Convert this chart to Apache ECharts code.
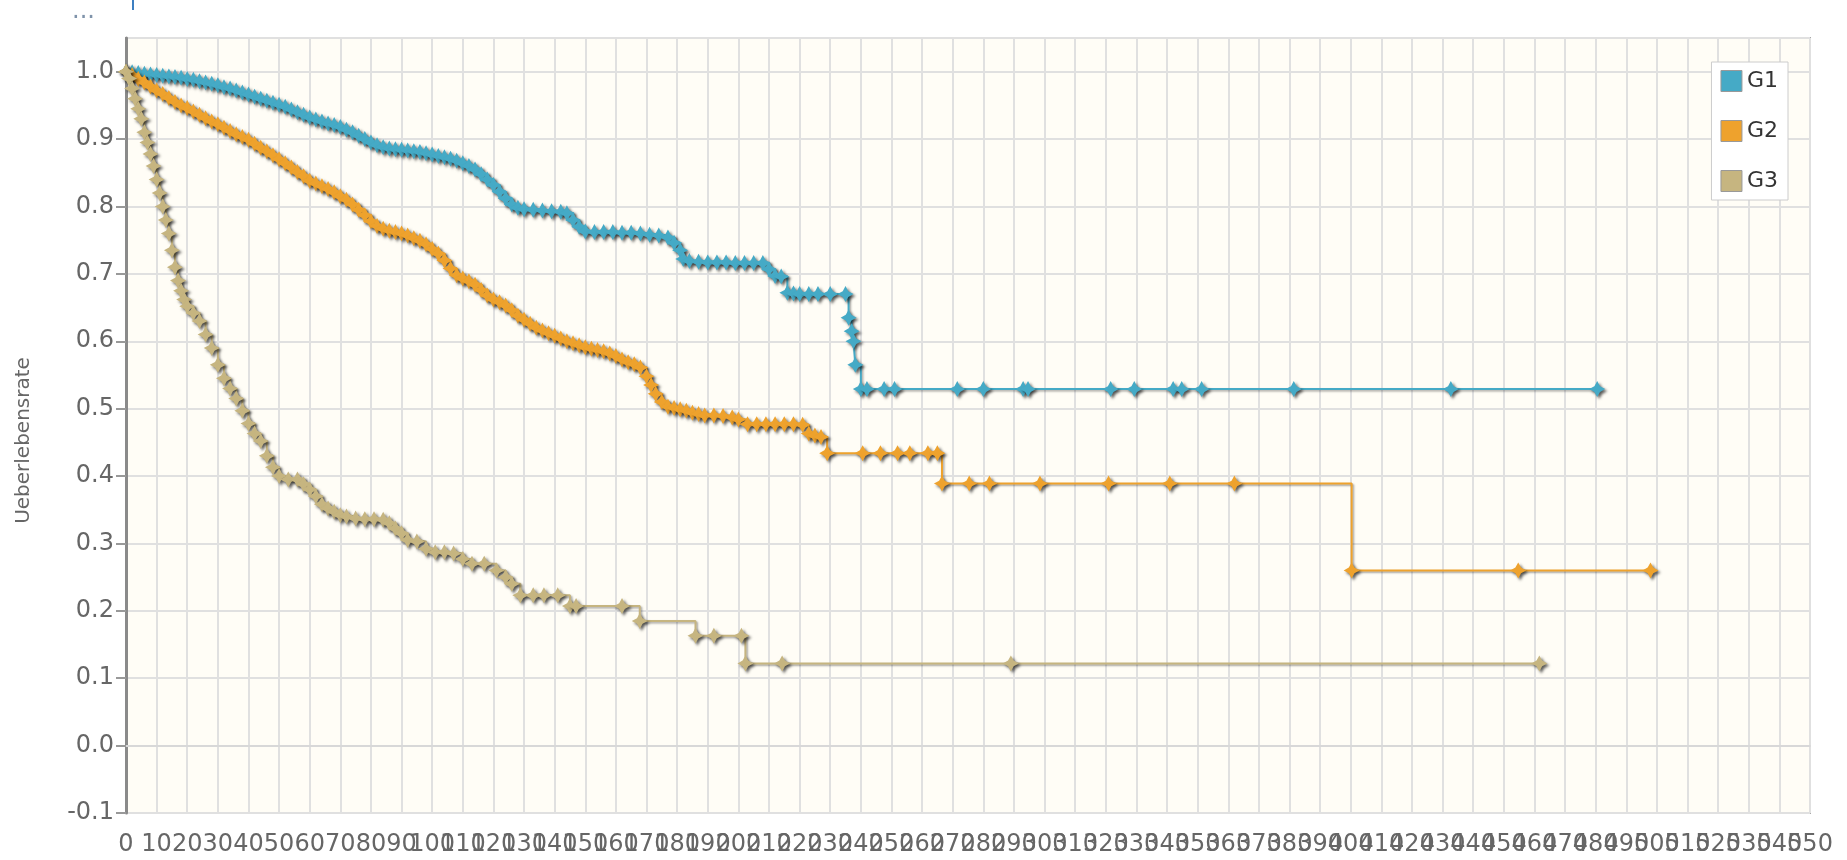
<!DOCTYPE html>
<html><head><meta charset="utf-8">
<script src="https://cdn.jsdelivr.net/npm/echarts@6.0.0/dist/echarts.min.js"></script>
<style>html,body{margin:0;padding:0;background:#fff}#c{width:1847px;height:860px}</style>
</head><body><div id="c"></div>
<script>
const seriesNames = ['G1', 'G2', 'G3'];
const seriesColors = ['#45aac6', '#eea22d', '#c6b580'];
const yAxisTitle = 'Ueberlebensrate';

const g1 = [[0,1.000],[2,0.999],[4,0.998],[6,0.997],[8,0.996],[10,0.995],[12,0.994],[14,0.993],[16,0.992],[18,0.991],[20,0.989],[22,0.988],[24,0.986],[26,0.984],[28,0.982],[30,0.980],[32,0.977],[34,0.975],[36,0.972],[38,0.969],[40,0.966],[42,0.963],[44,0.960],[46,0.957],[48,0.954],[50,0.951],[52,0.948],[54,0.944],[56,0.940],[58,0.936],[60,0.932],[62,0.929],[64,0.926],[66,0.923],[68,0.921],[70,0.918],[72,0.914],[74,0.910],[76,0.905],[78,0.900],[80,0.895],[82,0.891],[84,0.888],[86,0.886],[88,0.885],[90,0.884],[92,0.883],[94,0.882],[96,0.881],[98,0.879],[100,0.877],[102,0.875],[104,0.873],[106,0.871],[108,0.868],[110,0.864],[112,0.860],[114,0.855],[116,0.848],[118,0.840],[120,0.832],[122,0.822],[124,0.812],[126,0.803],[128,0.798],[130,0.796],[133,0.795],[136,0.794],[139,0.793],[142,0.792],[144,0.790],[146,0.780],[148,0.770],[150,0.763],[153,0.762],[156,0.762],[159,0.762],[162,0.761],[165,0.761],[168,0.760],[171,0.758],[174,0.757],[177,0.754],[179,0.746],[181,0.735],[182,0.722],[184,0.719],[187,0.718],[190,0.717],[193,0.717],[196,0.717],[199,0.716],[202,0.716],[205,0.716],[208,0.716],[210,0.707],[212,0.697],[214,0.696],[216,0.672],[218,0.671],[220,0.670],[223,0.670],[226,0.670],[230,0.670],[235,0.670],[236,0.635],[237,0.615],[237.6,0.600],[238.2,0.565],[240,0.529],[242,0.529],[247.6,0.529],[251,0.529],[271.5,0.529],[280,0.529],[293,0.529],[294.6,0.529],[321.6,0.529],[329.3,0.529],[342,0.529],[344.8,0.529],[351.3,0.529],[381.4,0.529],[432.7,0.529],[480.5,0.529]];

const g2 = [[0,1.000],[2,0.995],[4,0.989],[6,0.984],[8,0.978],[10,0.972],[12,0.967],[14,0.961],[16,0.955],[18,0.950],[20,0.946],[22,0.941],[24,0.936],[26,0.931],[28,0.926],[30,0.922],[32,0.917],[34,0.912],[36,0.907],[38,0.903],[40,0.899],[42,0.893],[44,0.887],[46,0.882],[48,0.876],[50,0.870],[52,0.864],[54,0.858],[56,0.851],[58,0.845],[60,0.838],[62,0.834],[64,0.830],[66,0.826],[68,0.821],[70,0.815],[72,0.810],[74,0.803],[76,0.795],[78,0.787],[80,0.778],[82,0.771],[84,0.767],[86,0.764],[88,0.762],[90,0.760],[92,0.757],[94,0.753],[96,0.749],[98,0.744],[100,0.737],[102,0.730],[104,0.720],[106,0.708],[108,0.698],[110,0.693],[112,0.689],[114,0.684],[116,0.676],[118,0.668],[120,0.662],[122,0.658],[124,0.653],[126,0.646],[128,0.638],[130,0.632],[132,0.626],[134,0.620],[136,0.616],[138,0.612],[140,0.608],[142,0.604],[144,0.600],[146,0.597],[148,0.594],[150,0.591],[152,0.589],[154,0.587],[156,0.585],[158,0.582],[160,0.578],[162,0.573],[164,0.569],[166,0.566],[168,0.561],[170,0.548],[171.5,0.535],[173,0.522],[175,0.510],[177,0.503],[179,0.501],[181,0.499],[183,0.497],[185,0.494],[187,0.492],[189,0.490],[192,0.490],[195,0.489],[198,0.487],[200,0.484],[203,0.477],[206,0.477],[209,0.477],[212,0.477],[215,0.477],[218,0.477],[221,0.476],[223,0.463],[225,0.460],[227,0.458],[229,0.434],[240.6,0.434],[246.4,0.434],[252,0.434],[256,0.434],[261.9,0.434],[265,0.434],[266.5,0.389],[275.4,0.389],[282,0.389],[298.5,0.389],[320.9,0.389],[340.9,0.389],[362,0.389],[400.3,0.260],[454.7,0.260],[497.9,0.260]];

const g3 = [[0,1.000],[1,0.990],[2,0.975],[3,0.960],[4,0.945],[5,0.930],[6,0.910],[7,0.895],[8,0.878],[9,0.860],[10,0.840],[11,0.820],[12,0.800],[13,0.780],[14,0.760],[15,0.735],[16,0.710],[17,0.690],[18,0.675],[19,0.662],[20,0.652],[22,0.642],[24,0.630],[26,0.610],[28,0.590],[30,0.565],[32,0.545],[34,0.530],[36,0.515],[38,0.497],[40,0.478],[42,0.463],[44,0.452],[46,0.430],[48,0.413],[50,0.400],[53,0.395],[56,0.395],[58,0.388],[60,0.380],[62,0.370],[64,0.358],[66,0.352],[68,0.347],[70,0.342],[72,0.340],[75,0.337],[78,0.336],[81,0.336],[84,0.335],[86,0.330],[88,0.322],[90,0.315],[92,0.305],[95,0.303],[98,0.292],[101,0.287],[104,0.287],[107,0.285],[110,0.277],[113,0.270],[117,0.270],[121,0.260],[124,0.250],[126,0.240],[128.8,0.223],[133,0.223],[136.5,0.223],[141,0.223],[145,0.207],[147,0.207],[162,0.207],[167.8,0.185],[186,0.163],[192,0.163],[201,0.163],[202.3,0.122],[214.3,0.122],[289,0.122],[461.6,0.122]];

const seriesData = [g1, g2, g3];
const xMin = 0, xMax = 550, xStep = 10;
const yMin = -0.1, yMax = 1.05, yStep = 0.1;

const FONT = 'DejaVu Sans';
const star = 'path://M10,0 L13.5,6.5 L20,10 L13.5,13.5 L10,20 L6.5,13.5 L0,10 L6.5,6.5 Z';

const xLabelStyle = {fontFamily: FONT, fontSize: 24, color: '#666666', margin: 20};

const chart = echarts.init(document.getElementById('c'), null, {renderer: 'canvas'});
chart.setOption({
  animation: false,
  backgroundColor: '#ffffff',
  graphic: [
    {type: 'text', left: 72, top: 0, style: {text: '...', fill: '#7f93aa', font: '24px "DejaVu Sans"'}},
    {type: 'line', shape: {x1: 133, y1: 0, x2: 133, y2: 10}, style: {stroke: '#3d7fc1', lineWidth: 2}}
  ],
  grid: {left: 126, top: 38, right: 37, bottom: 47, show: true,
         backgroundColor: '#fffdf6', borderColor: '#a8a8a8', borderWidth: 2},
  legend: {
    data: seriesNames, orient: 'vertical', right: 59, top: 62,
    icon: 'rect', itemWidth: 21, itemHeight: 21, itemGap: 28,
    padding: [8, 10, 8, 9], borderColor: '#cccccc', borderWidth: 1, backgroundColor: '#ffffff',
    itemStyle: {borderColor: '#999999', borderWidth: 1, shadowBlur: 0, shadowOffsetX: 0, shadowOffsetY: 0},
    textStyle: {fontFamily: FONT, fontSize: 22, color: '#333333'}
  },
  xAxis: [{
    type: 'value', min: xMin, max: xMax, interval: xStep,
    axisLine: {show: true, lineStyle: {color: '#d8d8d8', width: 2}},
    axisTick: {show: false},
    axisLabel: Object.assign({showMaxLabel: false, showMinLabel: true}, xLabelStyle),
    splitLine: {show: true, lineStyle: {color: '#e0e0e0', width: 2}}
  }, {
    type: 'value', position: 'bottom', min: xMin, max: xMax, interval: xStep,
    axisLine: {show: false}, axisTick: {show: false}, splitLine: {show: false},
    axisLabel: Object.assign({showMaxLabel: true, showMinLabel: false,
      formatter: v => (v === xMax ? String(v) : '')}, xLabelStyle)
  }],
  yAxis: {
    type: 'value', min: yMin, max: yMax, interval: yStep,
    name: yAxisTitle, nameLocation: 'middle', nameGap: 92,
    nameTextStyle: {fontFamily: FONT, fontSize: 20, color: '#666666', padding: [0, 30, 0, 0]},
    axisLine: {show: true, lineStyle: {color: '#8a8a8a', width: 3}},
    axisTick: {show: true, length: 10, lineStyle: {color: '#999999', width: 2}},
    axisLabel: {fontFamily: FONT, fontSize: 24, color: '#666666', margin: 12, showMaxLabel: false,
                formatter: v => (Math.round(v * 10) / 10).toFixed(1)},
    splitLine: {show: true, lineStyle: {color: '#e0e0e0', width: 2}}
  },
  series: seriesNames.map((n, i) => ({
    name: n, type: 'line', step: 'end', data: seriesData[i],
    xAxisIndex: 0, color: seriesColors[i],
    symbol: star, symbolSize: 16, showAllSymbol: true,
    lineStyle: {width: 2, color: seriesColors[i], shadowColor: 'rgba(0,0,0,0.35)', shadowBlur: 2, shadowOffsetX: 1.5, shadowOffsetY: 1.5},
    itemStyle: {color: seriesColors[i], shadowColor: 'rgba(0,0,0,0.65)', shadowBlur: 3, shadowOffsetX: 2, shadowOffsetY: 2},
    emphasis: {disabled: true}
  }))
});
</script></body></html>
